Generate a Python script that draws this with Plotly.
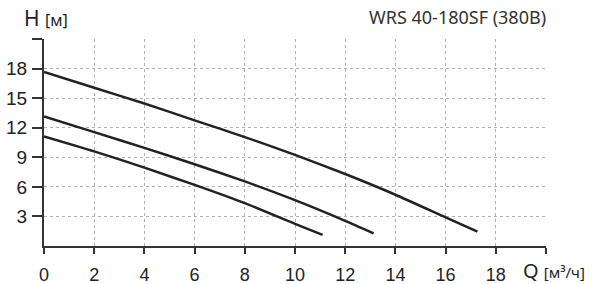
import plotly.graph_objects as go

# Curve data (Q in m3/h, H in m)
q_top = [0, 2, 4, 6, 8, 10, 12, 14, 16, 17.27]
h_top = [17.67, 16.05, 14.45, 12.75, 11.05, 9.25, 7.3, 5.2, 2.9, 1.46]

q_mid = [0, 2, 4, 6, 8, 10, 12, 13.13]
h_mid = [13.15, 11.55, 9.95, 8.3, 6.55, 4.65, 2.55, 1.29]

q_low = [0, 2, 4, 6, 8, 10, 11.1]
h_low = [11.12, 9.6, 7.95, 6.2, 4.35, 2.25, 1.12]

x_ticks = [0, 2, 4, 6, 8, 10, 12, 14, 16, 18]
y_ticks = [3, 6, 9, 12, 15, 18]

title_text = "WRS 40-180SF (380В)"
y_title_main = "H"
y_title_unit = "[м]"
x_title_main = "Q"
x_title_unit = "[м³/ч]"

fig = go.Figure()
for q, h in [(q_top, h_top), (q_mid, h_mid), (q_low, h_low)]:
    fig.add_trace(go.Scatter(x=q, y=h, mode="lines",
                             line=dict(color="#222222", width=2.5, shape="spline", smoothing=0.6),
                             showlegend=False, hoverinfo="skip"))

font_fam = "Liberation Sans, Arial, sans-serif"
axis_common = dict(showgrid=True, gridcolor="#b0b0b0", griddash="dot", gridwidth=1,
                   showline=True, linecolor="#333333", linewidth=2,
                   tickwidth=2, tickcolor="#333333",
                   zeroline=False, fixedrange=True, automargin=False)
fig.update_layout(
    width=594, height=284,
    margin=dict(l=44, r=48, t=39, b=38, autoexpand=False),
    paper_bgcolor="white", plot_bgcolor="white",
    font=dict(family=font_fam, size=19, color="#222222"),
    xaxis=dict(range=[0, 20], tickvals=x_ticks + [20], ticktext=[str(v) for v in x_ticks] + [""],
               ticks="outside", ticklen=6, ticklabelstandoff=5, tickfont=dict(size=18),
               **axis_common),
    yaxis=dict(range=[0, 21], tickvals=y_ticks + [21], ticktext=[str(v) for v in y_ticks] + [""],
               ticks="outside", ticklen=10, ticklabelstandoff=1, **axis_common),
    annotations=[
        dict(text=y_title_main + " <span style='font-size:16px'>" + y_title_unit + "</span>",
             xref="paper", yref="paper", x=(22 - 44) / 502, y=(246 - 18) / 207,
             xanchor="left", yanchor="middle", showarrow=False,
             font=dict(family="Noto Sans, sans-serif", size=21, color="#222222")),
        dict(text=title_text, xref="paper", yref="paper", x=(548 - 44) / 502, y=(246 - 17) / 207,
             xanchor="right", yanchor="middle", showarrow=False,
             font=dict(family="Noto Sans, sans-serif", size=18, color="#333333")),
        dict(text=x_title_main + " <span style='font-size:15px'>" + x_title_unit + "</span>",
             xref="paper", yref="paper", x=(521 - 44) / 502, y=(246 - 270) / 207,
             xanchor="left", yanchor="middle", showarrow=False,
             font=dict(family="Noto Sans, sans-serif", size=20, color="#222222")),
    ],
)

fig.write_html("out.html", config={"displayModeBar": False, "staticPlot": True},
               post_script="document.body.style.margin='0';document.body.style.overflow='hidden';")
